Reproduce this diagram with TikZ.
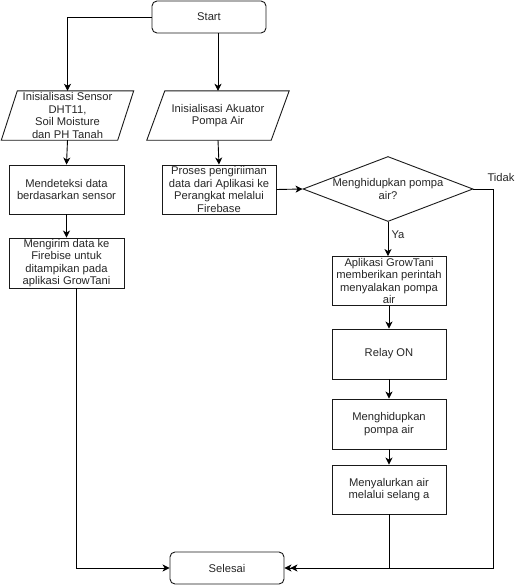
\documentclass[tikz,border=0pt]{standalone}
\usepackage{fontspec}
\setmainfont{Liberation Sans}
\usetikzlibrary{arrows.meta,shapes.geometric,calc}
\begin{document}
\begin{tikzpicture}[x=1pt,y=-1pt,
  every node/.style={font=\fontsize{11.2}{12.5}\selectfont, text=black!85, align=center, inner sep=0pt},
  box/.style={draw=black!90, line width=0.9pt, minimum width=114pt, minimum height=49pt},
  term/.style={draw=black!90, line width=0.9pt, rounded corners=5pt, minimum width=114pt, minimum height=32pt},
  iobox/.style={minimum height=49pt},
  dec/.style={draw=black!90, line width=0.9pt, diamond, aspect=2.6, minimum width=170pt, minimum height=65pt, inner sep=0pt},
  arr/.style={line width=0.9pt, -{Stealth[length=7pt,width=7pt,inset=2pt]}},
  ln/.style={line width=0.9pt},
  lab/.style={font=\fontsize{11.2}{12.5}\selectfont}]
\useasboundingbox (0,0) rectangle (532,586);

\node[term] (start) at (209,17) {Start};

\node[iobox, minimum width=116pt] (in1) at (67.5,115.5) {Inisialisasi Sensor\\DHT11,\\Soil Moisture\\dan PH Tanah};
\draw[ln, draw=black!90] ([xshift=8pt]in1.north west) -- ([xshift=8pt]in1.north east) -- ([xshift=-8pt]in1.south east) -- ([xshift=-8pt]in1.south west) -- cycle;

\node[iobox, minimum width=124pt] (in2) at (218,115.5) {Inisialisasi Akuator\\Pompa Air};
\draw[ln, draw=black!90] ([xshift=9pt]in2.north west) -- ([xshift=9pt]in2.north east) -- ([xshift=-9pt]in2.south east) -- ([xshift=-9pt]in2.south west) -- cycle;

\node[box, minimum width=115pt] (deteksi) at (66.5,189.5) {Mendeteksi data\\berdasarkan sensor};
\node[box, minimum width=115pt, minimum height=50pt] (kirim) at (66.5,263) {Mengirim data ke\\Firebise untuk\\ditampikan pada\\aplikasi GrowTani};
\node[box] (proses) at (219,189.5) {Proses pengiriiman\\data dari Aplikasi ke\\Perangkat melalui\\Firebase};

\node[dec] (dec) at (388,189) {};
\node at (388,189) {Menghidupkan pompa\\air?};

\node[box] (aplikasi) at (389,281) {Aplikasi GrowTani\\memberikan perintah\\menyalakan pompa\\air};
\node[box, minimum height=50pt] (relay) at (389,354) {Relay ON};
\node[box, minimum height=50pt] (hidup) at (389,424) {Menghidupkan\\pompa air};
\node[box] (salur) at (389,489.5) {Menyalurkan air\\melalui selang a};

\node[term] (selesai) at (227,568) {Selesai};

\coordinate (tr) at (493,189);

\draw[arr] (start.west) -| (in1.north);
\draw[arr] (start.south -| in2.north) -- (in2.north);
\draw[arr] (in1.south) -- (deteksi.north);
\draw[arr] (in2.south) -- (proses.north);
\draw[arr] (deteksi.south) -- (kirim.north);
\draw[arr] ([xshift=9.5pt]kirim.south) |- (selesai.west);
\draw[arr] (proses.east) -- (dec.west);
\draw[arr] (dec.south) -- (dec.south |- aplikasi.north);
\node[lab] (ya) at (398,235) {Ya};
\draw[arr] (dec.east) -- (tr) |- (selesai.east);
\node[lab] (tidak) at (501,177) {Tidak};
\draw[arr] (aplikasi.south) -- (relay.north);
\draw[arr] (relay.south) -- (hidup.north);
\draw[arr] (hidup.south) -- (salur.north);
\draw[arr] (salur.south) |- ([xshift=6pt]selesai.east);
\end{tikzpicture}
\end{document}
